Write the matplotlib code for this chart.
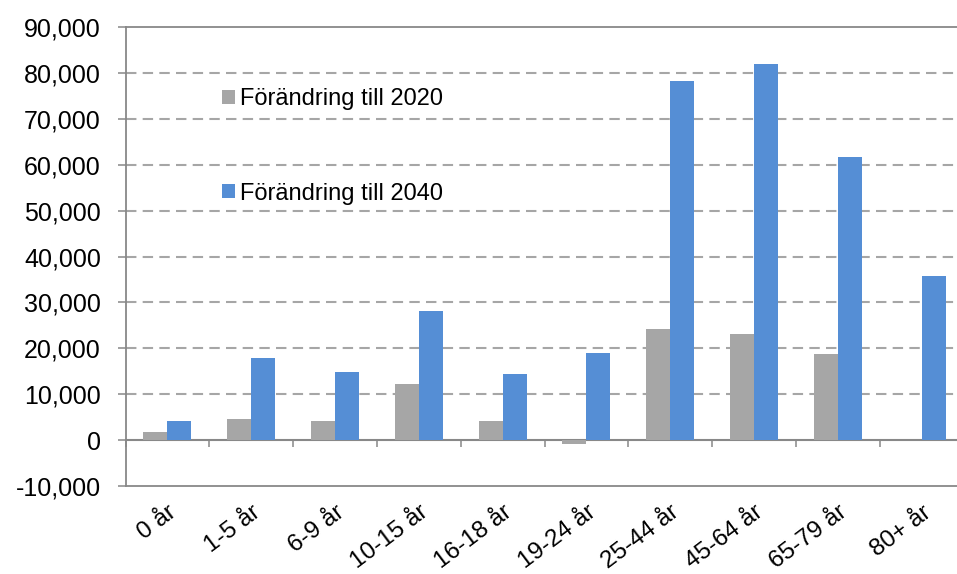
import matplotlib.pyplot as plt
import matplotlib.ticker as mticker
import numpy as np

plt.rcParams['font.family'] = ['Liberation Sans', 'DejaVu Sans']

categories = ["0 år", "1-5 år", "6-9 år", "10-15 år", "16-18 år",
              "19-24 år", "25-44 år", "45-64 år", "65-79 år", "80+ år"]
change_2020 = [1700, 4600, 4200, 12300, 4200, -900, 24100, 23100, 18800, 0]
change_2040 = [4100, 17800, 14900, 28200, 14500, 19000, 78300, 82000, 61600, 35700]
y_ticks = list(range(-10000, 90001, 10000))

gray = "#A6A6A6"
blue = "#558ED5"
axis_col = "#888888"

fig = plt.figure(figsize=(9.57, 5.74), dpi=100)
ax = fig.add_axes([125.5 / 957, 1 - 486 / 574, 838 / 957, (486 - 27) / 574])

x = np.arange(len(categories))
w = 0.286
ax.bar(x - w / 2, change_2020, w, color=gray, label="Förändring till 2020", zorder=3)
ax.bar(x + w / 2, change_2040, w, color=blue, label="Förändring till 2040", zorder=3)

ax.set_xlim(-0.5, len(categories) - 0.5)
ax.set_ylim(-10000, 90000)
ax.set_yticks(y_ticks)
ax.yaxis.set_major_formatter(mticker.FuncFormatter(lambda v, p: f"{v:,.0f}"))
ax.tick_params(axis='y', direction='out', length=5.8, width=1.1, color=axis_col,
               labelsize=18, pad=12)

ax.set_xticks(x)
ax.set_xticklabels(categories, rotation=37, ha='right', rotation_mode='anchor')
ax.tick_params(axis='x', length=0, labelsize=17.5, pad=11)

for v in y_ticks[1:-1]:
    if v != 0:
        ax.axhline(v, color=gray, lw=1.5, ls=(0, (5, 3)), zorder=1)

for s in ['left', 'top', 'bottom']:
    ax.spines[s].set_color(axis_col)
    ax.spines[s].set_linewidth(1.3)
ax.spines['right'].set_visible(False)

# zero line with category separators
sec = ax.secondary_xaxis(0.1)
sec.set_xticks(np.arange(-0.5, len(categories)))
sec.tick_params(direction='out', length=5, width=1.1, color=axis_col, labelbottom=False)
sec.spines['bottom'].set_color(axis_col)
sec.spines['bottom'].set_linewidth(1.5)

ax.legend(loc='upper left', bbox_to_anchor=(222 / 957, 1 - 88 / 574),
          bbox_transform=fig.transFigure, frameon=False, fontsize=17,
          handlelength=0.55, handleheight=0.55, handletextpad=0.22,
          labelspacing=3.08, borderpad=0, borderaxespad=0)

fig.savefig("out.png", dpi=100)
